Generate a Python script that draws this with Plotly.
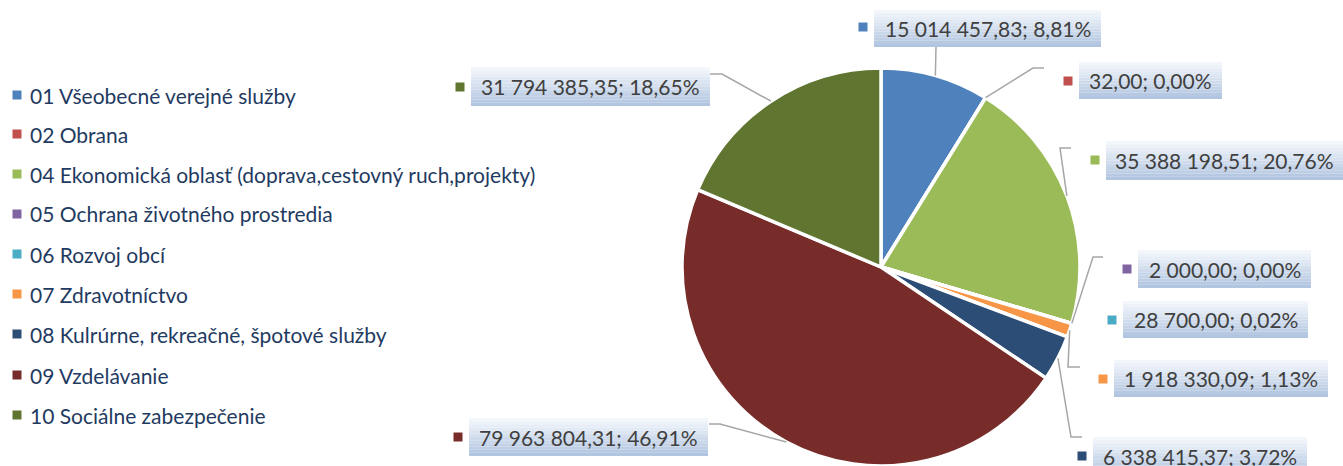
import math
import plotly.graph_objects as go

# ---------------- data ----------------
categories = [
    "01 Všeobecné verejné služby",
    "02 Obrana",
    "04 Ekonomická oblasť (doprava,cestovný ruch,projekty)",
    "05 Ochrana životného prostredia",
    "06 Rozvoj obcí",
    "07 Zdravotníctvo",
    "08 Kulrúrne, rekreačné, špotové služby",
    "09 Vzdelávanie",
    "10 Sociálne zabezpečenie",
]
values = [15014457.83, 32.00, 35388198.51, 2000.00, 28700.00,
          1918330.09, 6338415.37, 79963804.31, 31794385.35]
colors = ["#4F81BD", "#C0504D", "#9BBB59", "#8064A2", "#4BACC6",
          "#F79646", "#2C4D75", "#772C2A", "#5F7530"]

# ---------------- layout constants (pixels) ----------------
W, H = 1343, 466
CX, CY, R = 881, 267, 199

# label boxes (left, top, right, bottom), marker centre, leader-line points after the pie edge
label_boxes = [
    (874, 10, 1101, 47), (1079, 62, 1222, 99), (1106, 141, 1343, 180),
    (1138, 250, 1311, 288), (1123, 301, 1308, 338), (1114, 360, 1328, 397),
    (1093, 437, 1307, 475), (469, 418, 708, 456), (471, 67, 710, 106),
]
label_markers = [(863, 27), (1068, 81), (1095, 160), (1127, 269), (1112, 320),
                 (1103, 379), (1082, 456), (458, 437), (460, 87)]
leader_pts = [
    [(936, 47)],
    [(1033, 68), (1044, 68)],
    [(1060, 148), (1071, 148)],
    [(1093, 257), (1103, 257)],
    [],
    [(1068, 367), (1080, 367)],
    [(1071, 437), (1082, 437)],
    [(720, 424), (709, 424)],
    [(722, 74), (710, 74)],
]
legend_x_sq, legend_x_txt = 17, 28
legend_rows = [95, 134, 174, 214, 254, 294, 334, 375, 415]

FONT = "Lato"


def px(x):
    return x / W


def py(y):
    return 1 - y / H


def fmt_num(v):
    return f"{v:,.2f}".replace(",", " ").replace(".", ",")


def fmt_pct(p):
    return f"{p:.2f}".replace(".", ",") + "%"


total = sum(values)

fig = go.Figure()
fig.add_trace(go.Pie(
    labels=categories,
    values=values,
    sort=False,
    direction="clockwise",
    rotation=0,
    textinfo="none",
    marker=dict(colors=colors, line=dict(color="white", width=3.5)),
    domain=dict(x=[px(CX - R), px(CX + R)], y=[py(CY + R), py(CY - R)]),
    showlegend=False,
))

shapes = []
annotations = []


def mix(c1, c2, t):
    a = [int(c1[i:i + 2], 16) for i in (1, 3, 5)]
    b = [int(c2[i:i + 2], 16) for i in (1, 3, 5)]
    return "#" + "".join(f"{round(a[k] + (b[k] - a[k]) * t):02x}" for k in range(3))


cum = 0.0
for i, v in enumerate(values):
    mid = (cum + v / 2) / total
    cum += v
    ang = 2 * math.pi * mid
    ex, ey = CX + R * math.sin(ang), CY - R * math.cos(ang)

    # leader line
    pts = [(ex, ey)] + leader_pts[i]
    if len(pts) > 1:
        path = "M " + " L ".join(f"{px(x)},{py(y)}" for x, y in pts)
        shapes.append(dict(type="path", xref="paper", yref="paper", path=path,
                           line=dict(color="#A6A6A6", width=1.5), layer="above"))

    # gradient box
    l, t, r, b = label_boxes[i]
    n = 12
    for k in range(n):
        y0 = t + (b - t) * k / n
        y1 = t + (b - t) * (k + 1) / n
        shapes.append(dict(type="rect", xref="paper", yref="paper",
                           x0=px(l), x1=px(r), y0=py(y1), y1=py(y0),
                           fillcolor=mix("#F3F6FB", "#B1C5E0", k / (n - 1)),
                           line=dict(width=0), layer="below"))
    # marker square
    mx, my = label_markers[i]
    shapes.append(dict(type="rect", xref="paper", yref="paper",
                       x0=px(mx - 4.5), x1=px(mx + 4.5), y0=py(my + 4.5), y1=py(my - 4.5),
                       fillcolor=colors[i], line=dict(width=0)))
    annotations.append(dict(
        xref="paper", yref="paper", x=px((l + r) / 2), y=py((t + b) / 2),
        xanchor="center", yanchor="middle", showarrow=False,
        text=f"{fmt_num(v)}; {fmt_pct(100 * v / total)}",
        font=dict(family=FONT, size=21, color="#404040"),
    ))

# legend
for i, name in enumerate(categories):
    yc = legend_rows[i]
    shapes.append(dict(type="rect", xref="paper", yref="paper",
                       x0=px(legend_x_sq - 4.5), x1=px(legend_x_sq + 4.5),
                       y0=py(yc + 4.5), y1=py(yc - 4.5),
                       fillcolor=colors[i], line=dict(width=0)))
    annotations.append(dict(
        xref="paper", yref="paper", x=px(legend_x_txt), y=py(yc),
        xanchor="left", yanchor="middle", showarrow=False, text=name,
        font=dict(family=FONT, size=21, color="#1F3B61"),
    ))

fig.update_layout(
    width=W, height=H, autosize=False,
    margin=dict(l=0, r=0, t=0, b=0),
    paper_bgcolor="white", plot_bgcolor="white",
    shapes=shapes, annotations=annotations,
    showlegend=False,
)

fig.write_html("out.html", config={"displayModeBar": False},
               post_script="document.body.style.margin='0';document.body.style.overflow='hidden';")
